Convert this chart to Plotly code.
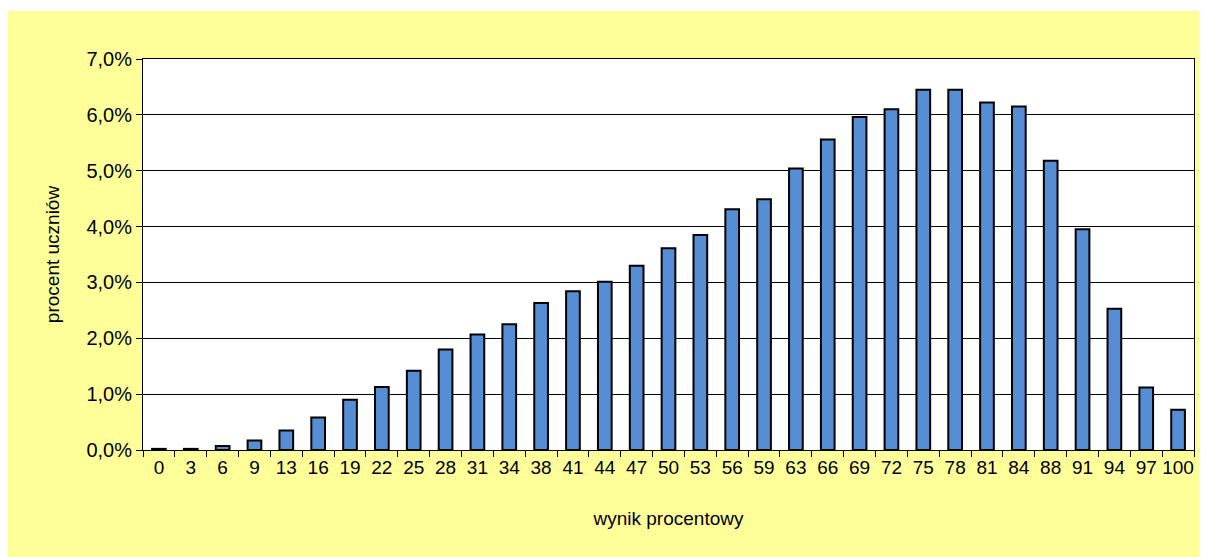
import plotly.graph_objects as go

categories = ["0", "3", "6", "9", "13", "16", "19", "22", "25", "28", "31", "34", "38",
              "41", "44", "47", "50", "53", "56", "59", "63", "66", "69", "72", "75",
              "78", "81", "84", "88", "91", "94", "97", "100"]
percent_values = [0.02, 0.02, 0.07, 0.17, 0.35, 0.58, 0.90, 1.13, 1.42, 1.80, 2.07, 2.25,
                  2.63, 2.84, 3.01, 3.30, 3.61, 3.85, 4.31, 4.49, 5.04, 5.56, 5.96, 6.10,
                  6.45, 6.45, 6.22, 6.15, 5.18, 3.95, 2.53, 1.12, 0.72]
y_tick_vals = [0, 1, 2, 3, 4, 5, 6, 7]
y_tick_text = ["0,0%", "1,0%", "2,0%", "3,0%", "4,0%", "5,0%", "6,0%", "7,0%"]

# the page body adds an 8px margin, so the figure is sized to fill the rest of the window
W, H = 1199, 549
L, R, T, B = 135, 13, 51, 107
FONT = "Liberation Sans, Arial, sans-serif"

fig = go.Figure()
fig.add_trace(go.Bar(
    x=categories, y=percent_values,
    marker=dict(color="#558ED5", line=dict(color="#000000", width=2)),
    width=0.43,
))

# thin white strip above the yellow chart area
ph = H - T - B
fig.add_shape(type="rect", xref="paper", yref="paper",
              x0=-L / (W - L - R), x1=1 + R / (W - L - R),
              y0=1 + (T - 3) / ph, y1=1 + T / ph,
              fillcolor="white", line=dict(width=0))

fig.update_layout(
    width=W, height=H,
    margin=dict(l=L, r=R, t=T, b=B),
    paper_bgcolor="#FFFF99",
    plot_bgcolor="white",
    showlegend=False,
    font=dict(family=FONT, size=20, color="#000000"),
    xaxis=dict(
        type="category",
        tickangle=0,
        tickson="boundaries",
        ticks="outside", ticklen=6, tickcolor="#000000",
        showline=True, linecolor="#000000", linewidth=1, mirror=True,
        showgrid=False,
        tickfont=dict(family=FONT, size=19),
        title=dict(text="wynik procentowy", font=dict(family=FONT, size=19), standoff=34),
    ),
    yaxis=dict(
        range=[0, 7],
        tickvals=y_tick_vals, ticktext=y_tick_text,
        ticks="outside", ticklen=6, tickcolor="#000000",
        showline=True, linecolor="#000000", linewidth=1, mirror=True,
        showgrid=True, gridcolor="#000000", gridwidth=1,
        zeroline=False,
        tickfont=dict(family=FONT, size=20),
        title=dict(text="procent uczniów", font=dict(family=FONT, size=19), standoff=21),
    ),
)

fig.write_html("out.html")
